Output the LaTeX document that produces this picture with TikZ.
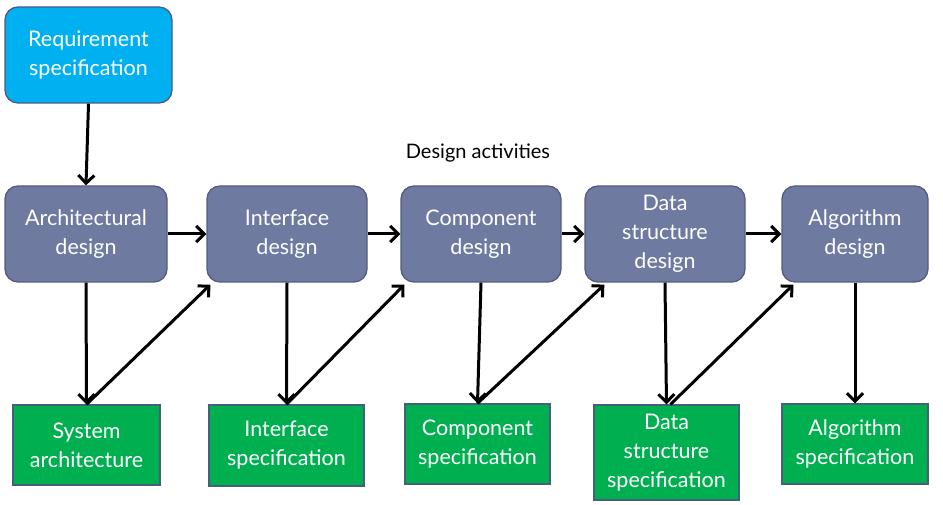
\documentclass[tikz,border=0pt]{standalone}
\usepackage{fontspec}
\setmainfont{Lato}
\usetikzlibrary{arrows.meta}
\definecolor{req}{HTML}{00B0F0}
\definecolor{reqb}{HTML}{4A5A86}
\definecolor{des}{HTML}{6F7AA1}
\definecolor{desb}{HTML}{555C80}
\definecolor{spec}{HTML}{00B050}
\definecolor{specb}{HTML}{44607A}
\begin{document}
\begin{tikzpicture}[x=1pt,y=-1pt,
  box/.style={line width=1.3pt, text=white, align=center, font=\fontsize{21.5}{29}\selectfont, inner sep=0pt},
  design/.style={box, fill=des, draw=desb, rounded corners=13pt, minimum height=96pt},
  reqbox/.style={box, fill=req, draw=reqb, rounded corners=13pt, minimum height=96pt},
  spec/.style={box, fill=spec, draw=specb},
  arr/.style={-{Straight Barb[length=8pt,width=16pt]}, line width=3pt}]
\useasboundingbox (0,0) rectangle (943,505);
\node[reqbox, minimum width=167pt] (req) at (88.5,55) {Requirement\\specification};
\node[font=\fontsize{20}{28}\selectfont] (title) at (478,153) {Design activities};
\node[design, minimum width=162pt] (arch) at (86,234) {Architectural\\design};
\node[design, minimum width=160pt] (intf) at (287,234) {Interface\\design};
\node[design, minimum width=160pt] (comp) at (481,234) {Component\\design};
\node[design, minimum width=160pt] (data) at (665,234) {Data\\structure\\design};
\node[design, minimum width=146pt] (algo) at (855,234) {Algorithm\\design};
\node[spec, minimum width=147pt, minimum height=80pt] (sys) at (86.5,445) {System\\architecture};
\node[spec, minimum width=155pt, minimum height=81pt] (ints) at (286.5,445.5) {Interface\\specification};
\node[spec, minimum width=145pt, minimum height=80pt] (comps) at (477.5,444) {Component\\specification};
\node[spec, minimum width=145pt, minimum height=95pt] (datas) at (666.5,452.5) {Data\\structure\\specification};
\node[spec, minimum width=146pt, minimum height=80pt] (algs) at (855,444) {Algorithm\\specification};
\draw[arr] (req.south) -- (arch.north);
\draw[arr] (arch.east) -- (intf.west);
\draw[arr] (intf.east) -- (comp.west);
\draw[arr] (comp.east) -- (data.west);
\draw[arr] (data.east) -- (algo.west);
\draw[arr] (arch.south) -- (sys.north);
\draw[arr] (intf.south) -- (ints.north);
\draw[arr] (comp.south) -- (comps.north);
\draw[arr] (data.south) -- (datas.north);
\draw[arr] (algo.south) -- (algs.north);
\draw[arr] (sys.north) -- ([shift={(4,2)}]intf.south west);
\draw[arr] (ints.north) -- ([shift={(4,2)}]comp.south west);
\draw[arr] (comps.north) -- ([shift={(20,2)}]data.south west);
\draw[arr] ([shift={(4,0)}]datas.north) -- ([shift={(12,2)}]algo.south west);
\end{tikzpicture}
\end{document}
